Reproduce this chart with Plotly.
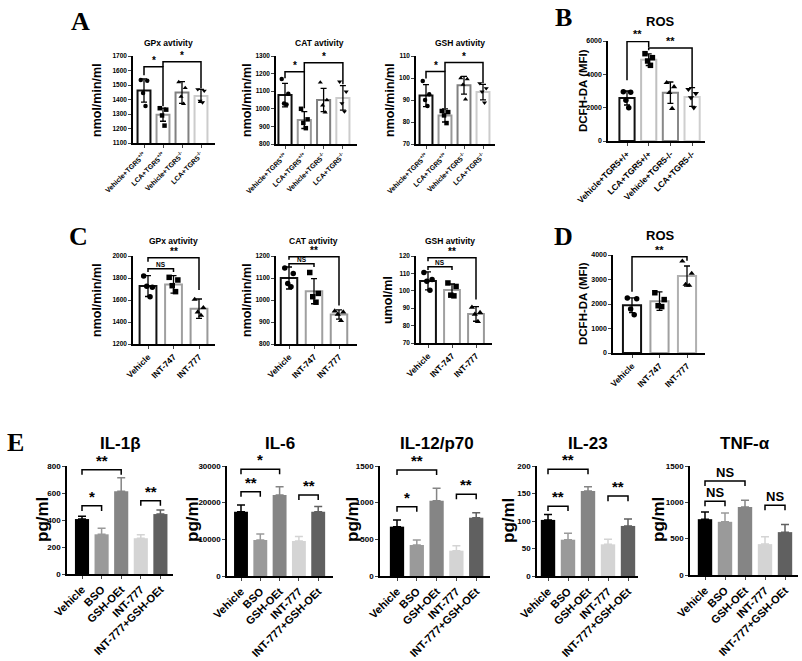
import plotly.graph_objects as go

W, H = 802, 661
FONT = "Liberation Sans"
SERIF = "Liberation Serif"

# ---------------- data ----------------
A_GROUPS = ["Vehicle+TGR5<sup>+/+</sup>", "LCA+TGR5<sup>+/+</sup>",
            "Vehicle+TGR5<sup>-/-</sup>", "LCA+TGR5<sup>-/-</sup>"]
B_GROUPS = ["Vehicle+TGR5+/+", "LCA+TGR5+/+", "Vehicle+TGR5-/-", "LCA+TGR5-/-"]
CD_GROUPS = ["Vehicle", "INT-747", "INT-777"]
E_GROUPS = ["Vehicle", "BSO", "GSH-OEt", "INT-777", "INT-777+GSH-OEt"]

A_GPX_MEAN = [1462, 1295, 1448, 1425]
A_GPX_SD = [80, 45, 75, 45]
A_GPX_PTS = [[1535, 1530, 1445, 1355], [1340, 1330, 1290, 1220],
             [1520, 1480, 1420, 1370], [1470, 1460, 1390, 1380]]
A_CAT_MEAN = [1078, 936, 1050, 1062]
A_CAT_SD = [67, 48, 66, 70]
A_CAT_PTS = [[1170, 1085, 1030, 1025], [1000, 940, 920, 890],
             [1150, 1050, 1020, 980], [1154, 1097, 1031, 984]]
A_GSH_MEAN = [92, 83, 96.7, 93.6]
A_GSH_SD = [5, 3, 4, 3.5]
A_GSH_PTS = [[98.6, 92.6, 90, 87.3], [85, 84.5, 83, 79.5],
             [100, 99.5, 97, 90.3], [97.6, 95.3, 93.8, 88.8]]

B_ROS_MEAN = [2580, 4880, 2900, 2640]
B_ROS_SD = [420, 350, 640, 560]
B_ROS_PTS = [[2960, 2920, 2440, 1990], [5240, 5000, 4800, 4540],
             [3500, 3250, 2900, 1950], [3100, 2850, 2600, 2000]]

C_GPX_MEAN = [1727, 1742, 1521]
C_GPX_SD = [95, 80, 88]
C_GPX_PTS = [[1818, 1715, 1725, 1630], [1806, 1782, 1730, 1676], [1605, 1530, 1490, 1460]]
C_CAT_MEAN = [1100, 1040, 934]
C_CAT_SD = [50, 57, 21]
C_CAT_PTS = [[1145, 1120, 1075, 1060], [1125, 1030, 1015, 990], [950, 945, 935, 906]]
C_GSH_MEAN = [105.7, 100.4, 86.7]
C_GSH_SD = [5.2, 3.5, 4.2]
C_GSH_PTS = [[110.5, 106.5, 105.5, 100.3], [104.5, 102.5, 97.5, 97.1], [90.5, 87.5, 86.5, 82.3]]

D_ROS_MEAN = [1952, 2116, 3140]
D_ROS_SD = [300, 380, 410]
D_ROS_PTS = [[2240, 2210, 1800, 1560], [2460, 2180, 1930, 1894], [3750, 3250, 2800, 2760]]

E_IL1B_MEAN = [407, 294, 613, 265, 444]
E_IL1B_SEM = [20, 45, 100, 25, 30]
E_IL6_MEAN = [17545, 9818, 22090, 9545, 17545]
E_IL6_SEM = [1800, 1650, 2270, 1200, 1400]
E_IL12_MEAN = [673, 423, 1027, 345, 795]
E_IL12_SEM = [90, 68, 168, 69, 69]
E_IL23_MEAN = [102, 66, 154.5, 57.6, 91]
E_IL23_SEM = [10, 11.5, 8, 9, 12.7]
E_TNF_MEAN = [768, 732, 937, 425, 590]
E_TNF_SEM = [100, 122, 92, 100, 105]

# significance brackets: (bar0, bar1, level, leg0 end, leg1 end, label)
A_GPX_SIG = [(0, 1, 1626, 1568, 1354, "*"), (1, 3, 1661, 1626, 1476, "*")]
A_CAT_SIG = [(0, 1, 1211, 1173, 1003, "*"), (1, 3, 1262, 1211, 1140, "*")]
A_GSH_SIG = [(0, 1, 102.9, 99.8, 86.2, "*"), (1, 3, 107, 102.9, 97.6, "*")]
B_ROS_SIG = [(0, 1, 5975, 3640, 5640, "**"), (1, 3, 5580, 5440, 3200, "**")]
C_GPX_SIG = [(0, 2, 1985, 1948, 1691, "**"), (0, 1, 1885, 1855, 1855, "NS")]
C_CAT_SIG = [(0, 2, 1197, 1183, 975, "**"), (0, 1, 1165, 1150, 1150, "NS")]
C_GSH_SIG = [(0, 2, 119, 117, 95, "**"), (0, 1, 113.8, 111.9, 111.9, "NS")]
D_ROS_SIG = [(0, 2, 3932, 2498, 3768, "**")]
E_IL1B_SIG = [(0, 2, 773, 736, 736, "**"), (0, 1, 505, 466, 466, "*"), (3, 4, 542, 505, 505, "**")]
E_IL6_SIG = [(0, 2, 29090, 27727, 27727, "*"), (0, 1, 23000, 21636, 21636, "**"),
             (3, 4, 22090, 20727, 20727, "**")]
E_IL12_SIG = [(0, 2, 1445, 1377, 1377, "**"), (0, 1, 945, 877, 877, "*"), (3, 4, 1114, 1045, 1045, "**")]
E_IL23_SIG = [(0, 2, 194, 185, 185, "**"), (0, 1, 127, 118, 118, "**"), (3, 4, 145.5, 136, 136, "**")]
E_TNF_SIG = [(0, 2, 1294, 1226, 1226, "NS"), (0, 1, 1015, 947, 947, "NS"), (3, 4, 960, 892, 892, "NS")]

# ---------------- helpers ----------------
fig = go.Figure()
shapes = []
annots = []
count = [0]
SYMBOLS = ["circle", "square", "triangle-up", "triangle-down"]
JIT = [-0.17, 0.17, -0.05, 0.08]


def fx(px):
    return px / W


def fy(py):
    return 1 - py / H


def make_axes(box, ticktext, yrange, dtick, tick_size, ytick_size):
    L, R, top, bot, c0, step = box
    count[0] += 1
    sx = "" if count[0] == 1 else str(count[0])
    fig.layout["xaxis" + sx] = dict(
        domain=[fx(L), fx(R)], range=[(L - c0) / step, (R - c0) / step], anchor="y" + sx,
        tickmode="array", tickvals=list(range(len(ticktext))), ticktext=ticktext,
        tickangle=-45, ticks="outside", ticklen=3, tickwidth=1.2, showline=True,
        linecolor="black", linewidth=1.5, showgrid=False, zeroline=False, automargin=False,
        tickfont=dict(family=FONT, size=tick_size, color="black", weight="bold"))
    fig.layout["yaxis" + sx] = dict(
        domain=[fy(bot), fy(top)], range=yrange, anchor="x" + sx, dtick=dtick,
        tick0=yrange[0], ticks="outside", ticklen=3, tickwidth=1.2, showline=True,
        linecolor="black", linewidth=1.5, showgrid=False, zeroline=False, automargin=False,
        tickformat="d",
        tickfont=dict(family=FONT, size=ytick_size, color="black", weight="bold"))
    return "x" + sx, "y" + sx


def add_sig(xa, ya, sig, size, ns_size):
    for i0, i1, lev, e0, e1, lab in sig:
        shapes.append(dict(type="path", xref=xa, yref=ya,
                           path=f"M {i0},{e0} L {i0},{lev} L {i1},{lev} L {i1},{e1}",
                           line=dict(color="black", width=1.5)))
        annots.append(dict(x=(i0 + i1) / 2, y=lev, xref=xa, yref=ya, text=lab,
                           showarrow=False, yanchor="bottom", yshift=-1,
                           font=dict(family=FONT, size=size if lab != "NS" else ns_size,
                                     color="black", weight="bold")))


def text(x, y, s, size, family=FONT, angle=0):
    annots.append(dict(x=fx(x), y=fy(y), xref="paper", yref="paper", text=s,
                       showarrow=False, textangle=angle, xanchor="center", yanchor="middle",
                       font=dict(family=family, size=size, color="black", weight="bold")))


def dot_bar(box, groups, mean, sd, pts, colors, yrange, dtick, sig, width, msize,
            tick_size, ytick_size, star_size):
    xa, ya = make_axes(box, groups, yrange, dtick, tick_size, ytick_size)
    n = len(groups)
    fig.add_trace(go.Bar(
        x=list(range(n)), y=mean, width=width, xaxis=xa, yaxis=ya,
        marker=dict(color="white", line=dict(color=colors, width=2)),
        error_y=dict(type="data", array=sd, color="black", thickness=1.3, width=3)))
    for i in range(n):
        fig.add_trace(go.Scatter(
            x=[i + JIT[k] for k in range(len(pts[i]))], y=pts[i], mode="markers",
            xaxis=xa, yaxis=ya, cliponaxis=False,
            marker=dict(symbol=SYMBOLS[i], size=msize, color="black")))
    add_sig(xa, ya, sig, star_size, 6.5)


def fill_bar(box, groups, mean, sem, colors, yrange, dtick, sig):
    xa, ya = make_axes(box, groups, yrange, dtick, 11, 8)
    for i in range(len(groups)):
        fig.add_trace(go.Bar(
            x=[i], y=[mean[i]], width=0.72, xaxis=xa, yaxis=ya,
            marker=dict(color=colors[i], line=dict(width=0)),
            error_y=dict(type="data", array=[sem[i]], arrayminus=[0], symmetric=False,
                         color=colors[i], thickness=1.5, width=4)))
    add_sig(xa, ya, sig, 15, 13)


A_COL = ["#111111", "#999999", "#808080", "#cccccc"]
B_COL = ["#111111", "#c0c0c0", "#888888", "#cfcfcf"]
C_COL = ["#111111", "#a0a0a0", "#999999"]
D_COL = ["#111111", "#a0a0a0", "#b0b0b0"]
E_COL = ["#000000", "#9a9a9a", "#858585", "#d4d4d4", "#606060"]

# ---------------- panels ----------------
dot_bar((133, 215, 56, 143, 144, 19), A_GROUPS, A_GPX_MEAN, A_GPX_SD, A_GPX_PTS, A_COL,
        [1100, 1700], 100, A_GPX_SIG, 0.68, 4.5, 7, 6.5, 10)
dot_bar((276, 357, 56, 144, 285, 19.3), A_GROUPS, A_CAT_MEAN, A_CAT_SD, A_CAT_PTS, A_COL,
        [800, 1300], 100, A_CAT_SIG, 0.68, 4.5, 7, 6.5, 10)
dot_bar((416, 495, 56, 144, 426, 19), A_GROUPS, A_GSH_MEAN, A_GSH_SD, A_GSH_PTS, A_COL,
        [70, 110], 10, A_GSH_SIG, 0.68, 4.5, 7, 6.5, 10)
dot_bar((608, 705, 41, 141, 627, 21.7), B_GROUPS, B_ROS_MEAN, B_ROS_SD, B_ROS_PTS, B_COL,
        [0, 6000], 2000, B_ROS_SIG, 0.7, 5.5, 8.5, 7, 11)
dot_bar((133, 215, 256, 344, 148, 25.5), CD_GROUPS, C_GPX_MEAN, C_GPX_SD, C_GPX_PTS, C_COL,
        [1200, 2000], 200, C_GPX_SIG, 0.66, 5.5, 8.5, 6.5, 10)
dot_bar((276, 357, 256, 344, 289, 25), CD_GROUPS, C_CAT_MEAN, C_CAT_SD, C_CAT_PTS, C_COL,
        [800, 1200], 100, C_CAT_SIG, 0.66, 5.5, 8.5, 6.5, 10)
dot_bar((416, 492, 256, 343, 428, 24), CD_GROUPS, C_GSH_MEAN, C_GSH_SD, C_GSH_PTS, C_COL,
        [70, 120], 10, C_GSH_SIG, 0.66, 5.5, 8.5, 6.5, 10)
dot_bar((613, 705, 255, 353, 632, 27.5), CD_GROUPS, D_ROS_MEAN, D_ROS_SD, D_ROS_PTS, D_COL,
        [0, 4000], 1000, D_ROS_SIG, 0.66, 5.5, 8.5, 7, 11)

fill_bar((67, 173, 466, 574, 82, 19.6), E_GROUPS, E_IL1B_MEAN, E_IL1B_SEM, E_COL, [0, 800], 200, E_IL1B_SIG)
fill_bar((227, 333, 466, 576, 241, 19.3), E_GROUPS, E_IL6_MEAN, E_IL6_SEM, E_COL, [0, 30000], 10000, E_IL6_SIG)
fill_bar((380, 490, 466, 576, 397, 19.8), E_GROUPS, E_IL12_MEAN, E_IL12_SEM, E_COL, [0, 1500], 500, E_IL12_SIG)
fill_bar((537, 638, 466, 576, 548, 20), E_GROUPS, E_IL23_MEAN, E_IL23_SEM, E_COL, [0, 200], 50, E_IL23_SIG)
fill_bar((690, 798, 466, 575, 705, 20), E_GROUPS, E_TNF_MEAN, E_TNF_SEM, E_COL, [0, 1500], 500, E_TNF_SIG)

# titles, axis labels, panel letters
for x, s in [(168, "GPx avtivity"), (319, "CAT avtivity"), (460, "GSH avtivity")]:
    text(x, 43, s, 8.5)
for x, s in [(173, "GPx avtivity"), (313, "CAT avtivity"), (450, "GSH avtivity")]:
    text(x, 241, s, 8.5)
text(660, 22, "ROS", 13)
text(660, 236, "ROS", 13)
for x, s in [(120, "IL-1β"), (280, "IL-6"), (437, "IL-12/p70"), (588, "IL-23"), (745, "TNF-α")]:
    text(x, 443, s, 17)

for x, y, s in [(97, 100, "nmol/min/ml"), (247, 100, "nmol/min/ml"), (390, 100, "nmol/min/ml"),
                (97, 300, "nmol/min/ml"), (247, 300, "nmol/min/ml"), (388, 300, "umol/ml")]:
    text(x, y, s, 12.5, angle=-90)
text(583, 91, "DCFH-DA (MFI)", 11.5, angle=-90)
text(583, 304, "DCFH-DA (MFI)", 11.5, angle=-90)
for x in [42, 192, 352, 508, 658]:
    text(x, 520, "pg/ml", 17, angle=-90)

for x, y, s in [(80, 22, "A"), (563, 17, "B"), (78, 237, "C"), (563, 237, "D"), (15, 442, "E")]:
    text(x, y, s, 26, family=SERIF)

fig.update_layout(
    template="none",
    width=W, height=H, margin=dict(l=0, r=0, t=0, b=0, autoexpand=False),
    paper_bgcolor="white", plot_bgcolor="white", showlegend=False,
    barmode="overlay", shapes=shapes, annotations=annots,
    font=dict(family=FONT, color="black"))

# the page body has a default 8px margin; drop it so the figure fills the window
fig.write_html("out.html", config={"displayModeBar": False},
               post_script="document.body.style.margin = '0';")
